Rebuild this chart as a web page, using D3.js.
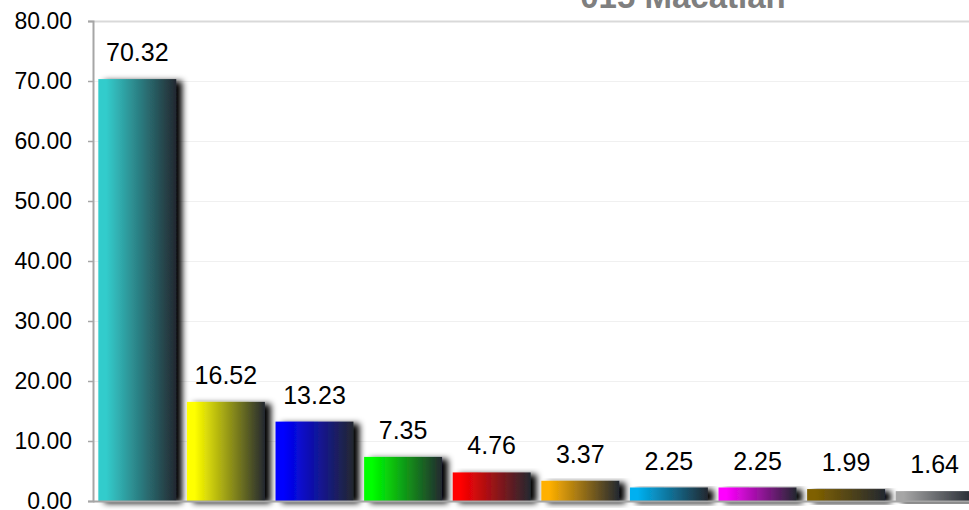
<!DOCTYPE html>
<html><head><meta charset="utf-8">
<script src="https://cdn.jsdelivr.net/npm/d3@7"></script>
<style>body{margin:0;background:#fff;}svg{display:block;font-family:Arial,"Liberation Sans",sans-serif;}</style>
</head><body>
<svg id="c" width="969" height="510"></svg>
<script>
const categories = ["A","B","C","D","E","F","G","H","I","J"];
const values = [70.32, 16.52, 13.23, 7.35, 4.76, 3.37, 2.25, 2.25, 1.99, 1.64];
const colors = ["#33CCCC","#FFFF00","#0000FF","#00FF00","#FF0000","#FFB000","#00B0F0","#FF00FF","#7F6000","#A6A6A6"];
const yTicks = [0,10,20,30,40,50,60,70,80];
const title = "015 Macatlan";

const svg = d3.select("#c");
const x = d3.scaleBand().domain(categories).range([93, 979]).paddingInner(0.12).paddingOuter(0.06);
const y = d3.scaleLinear().domain([0, 80]).range([501, 21]);

const defs = svg.append("defs");
const f = defs.append("filter").attr("id","sh").attr("x","-20%").attr("y","-20%").attr("width","150%").attr("height","150%");
f.append("feGaussianBlur").attr("in","SourceAlpha").attr("stdDeviation",3).attr("result","b");
f.append("feOffset").attr("in","b").attr("dx",6).attr("dy",2).attr("result","o");
f.append("feComponentTransfer").attr("in","o").attr("result","o2").append("feFuncA").attr("type","linear").attr("slope",1);
const m = f.append("feMerge"); m.append("feMergeNode").attr("in","o2"); m.append("feMergeNode").attr("in","SourceGraphic");

colors.forEach((c,i)=>{
  const g = defs.append("linearGradient").attr("id","g"+i).attr("x1","0").attr("x2","1").attr("y1","0").attr("y2","0");
  g.append("stop").attr("offset","0").attr("stop-color",c);
  g.append("stop").attr("offset","0.1").attr("stop-color",c);
  g.append("stop").attr("offset","1").attr("stop-color","#232830");
});

// gridlines
svg.append("g").selectAll("line").data(yTicks.slice(1)).join("line")
  .attr("x1",93).attr("x2",969).attr("y1",d=>Math.round(y(d))+0.5).attr("y2",d=>Math.round(y(d))+0.5)
  .attr("stroke",d=>d===80?"#d9d9d9":"#f0f0f0").attr("stroke-width",d=>d===80?2:1);

// y axis
const ya = svg.append("g").attr("transform","translate(93,0)")
  .call(d3.axisLeft(y).tickValues(yTicks).tickFormat(d3.format(".2f")).tickSize(5).tickPadding(16));
ya.select(".domain").attr("stroke","#a6a6a6").attr("stroke-width",2);
ya.selectAll(".tick line").attr("stroke","#a6a6a6").attr("stroke-width",1.5);
ya.selectAll(".tick text").attr("font-size",23).attr("fill","#000").attr("font-family","Arial,'Liberation Sans',sans-serif");

// bars
svg.append("g").selectAll("rect").data(values).join("rect")
  .attr("x",(d,i)=>x(categories[i])).attr("width",x.bandwidth())
  .attr("y",d=>y(d)).attr("height",d=>y(0)-y(d))
  .attr("fill",(d,i)=>"url(#g"+i+")").attr("filter","url(#sh)");

// bottom axis line
svg.append("line").attr("x1",93).attr("x2",969).attr("y1",501.5).attr("y2",501.5).attr("stroke","#a6a6a6").attr("stroke-width",2);

// labels
svg.append("g").selectAll("text").data(values).join("text")
  .attr("x",(d,i)=>x(categories[i])+x.bandwidth()/2).attr("y",d=>y(d)-18)
  .attr("text-anchor","middle").attr("font-size",25).attr("fill","#000")
  .text(d=>d.toFixed(2));

svg.append("text").attr("x",683).attr("y",8).attr("text-anchor","middle")
  .attr("font-size",33).attr("font-weight","bold").attr("fill","#7f7f7f").text(title);
</script>
</body></html>
